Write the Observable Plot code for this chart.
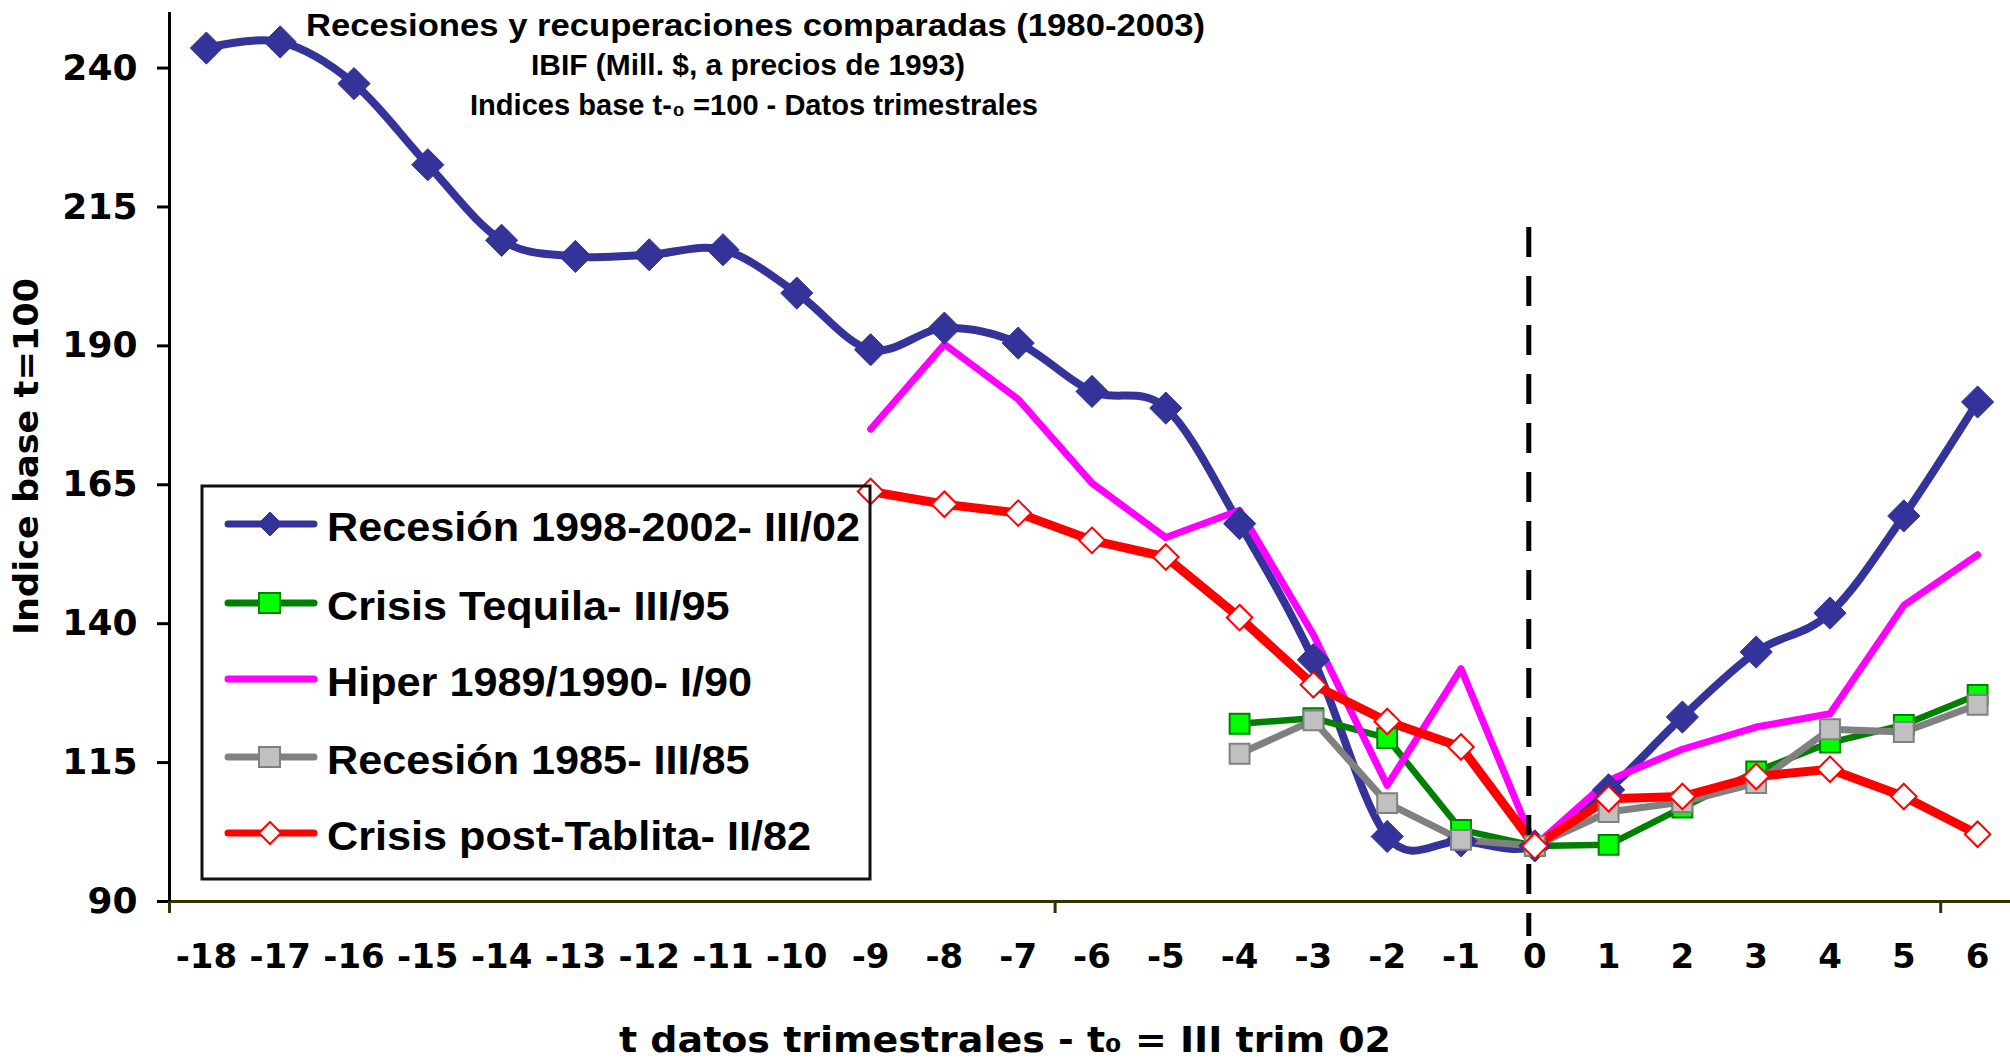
<!DOCTYPE html>
<html><head><meta charset="utf-8">
<script src="https://cdn.jsdelivr.net/npm/d3@7"></script>
<script src="https://cdn.jsdelivr.net/npm/@observablehq/plot@0.6"></script>
<style>
body{margin:0;background:#fff;}
#wrap{position:relative;width:2010px;height:1060px;overflow:hidden;}
#wrap svg{position:absolute;left:0;top:0;}
#wrap g[aria-label="y-axis tick label"], #wrap g[aria-label="y-axis tick label"] text{font:bold 36px "DejaVu Sans";}
#wrap g[aria-label="x-axis tick label"], #wrap g[aria-label="x-axis tick label"] text{font:bold 34px "DejaVu Sans";}
</style></head><body><div id="wrap"></div>
<script>
// ---- data ----
const periods = [-18,-17,-16,-15,-14,-13,-12,-11,-10,-9,-8,-7,-6,-5,-4,-3,-2,-1,0,1,2,3,4,5,6];
const recesion9802 = [243.6,244.7,237.2,222.6,209.0,206.1,206.4,207.3,199.5,189.3,193.2,190.5,181.8,178.8,158.0,133.5,101.7,100.9,100,110.1,123.2,134.9,141.9,159.4,179.9];
const tequila95    = [null,null,null,null,null,null,null,null,null,null,null,null,null,null,122.0,123.0,119.4,102.9,100,100.2,106.9,113.4,118.6,121.8,127.2];
const hiper90      = [null,null,null,null,null,null,null,null,null,175.0,190.3,180.4,165.3,155.5,160.4,138.0,110.9,131.9,100,111.8,117.4,121.4,123.8,143.3,152.4];
const recesion85   = [null,null,null,null,null,null,null,null,null,null,null,null,null,null,116.6,122.6,107.7,101.1,100,106.1,107.9,111.3,121.0,120.5,125.4];
const tablita82    = [null,null,null,null,null,null,null,null,null,163.8,161.5,159.9,155.0,152.0,141.1,129.0,122.4,117.8,100,108.5,108.9,112.5,113.8,108.9,102.1];
const seriesNames  = ["Recesión 1998-2002- III/02","Crisis Tequila- III/95","Hiper 1989/1990- I/90","Recesión 1985- III/85","Crisis post-Tablita- II/82"];
const yTicks = [90,115,140,165,190,215,240];
const xBoundaryTicks = [-18.5,-6.5,5.5];
const refPeriod = [0];
const refSpan = {from: 211.3, to: 83.7};
const titleLines = ["Recesiones y recuperaciones comparadas (1980-2003)","IBIF (Mill. $, a precios de 1993)","Indices base t-₀ =100 - Datos trimestrales"];
const yTitle = "Indice base t=100";
const xTitle = "t datos trimestrales - t₀ = III trim 02";

// ---- styles ----
const styles = [
  {line:"#333399", w:8, curve:"cardinal", symbol:"diamond2", fill:"#333399", ms:"#333399", r:14.5, msw:1},
  {line:"#008000", w:6.5, curve:"linear", symbol:"square", fill:"#00ff00", ms:"#008000", r:11.2, msw:2},
  {line:"#ff00ff", w:7, curve:"linear", symbol:null},
  {line:"#808080", w:7, curve:"linear", symbol:"square", fill:"#c0c0c0", ms:"#808080", r:11.2, msw:2},
  {line:"#ff0000", w:9, curve:"linear", symbol:"diamond2", fill:"#ffffff", ms:"#ff0000", r:11.5, msw:2}
];
const allValues = [recesion9802, tequila95, hiper90, recesion85, tablita82];
const rowsOf = vals => periods.map((t,i)=>({t, v: vals[i]})).filter(d => d.v != null);

const lineMarks = allValues.map((vals,i)=>Plot.line(rowsOf(vals), {x:"t", y:"v", stroke:styles[i].line, strokeWidth:styles[i].w, curve:styles[i].curve, strokeLinejoin:"round", strokeLinecap:"round"}));
const dotMarks = allValues.map((vals,i)=> styles[i].symbol ? Plot.dot(rowsOf(vals), {x:"t", y:"v", symbol:styles[i].symbol, r:styles[i].r, fill:styles[i].fill, stroke:styles[i].ms, strokeWidth:styles[i].msw}) : null).filter(Boolean);

const chart = Plot.plot({
  width: 2010, height: 1060,
  marginLeft: 169, marginRight: -4, marginTop: 12, marginBottom: 159,
  x: {type:"linear", domain:[-18.5, 6.5]},
  y: {type:"linear", domain:[90, 250]},
  style: {fontFamily: "DejaVu Sans", background: "white", overflow: "visible"},
  marks: [
    Plot.ruleY([90], {stroke:"#333300", strokeWidth:3}),
    Plot.ruleX([-18.5], {y1:90, y2:250, stroke:"black", strokeWidth:3}),
    Plot.axisY({ticks: yTicks, tickSize: 12, tickPadding: 20, label: null, stroke:"black", strokeWidth:3, fontSize:36, fontWeight:"bold", tickFormat: d => String(d)}),
    Plot.axisX({ticks: xBoundaryTicks, tickSize: 12, tickFormat: () => "", label: null, stroke:"#333300", strokeWidth:3}),
    Plot.axisX({ticks: periods, tickSize: 0, tickPadding: 42, label: null, fontSize:34, fontWeight:"bold", tickFormat: d => String(d)}),
    ...lineMarks,
    Plot.ruleX(refPeriod, {y1: refSpan.from, y2: refSpan.to, dx: -6, stroke:"black", strokeWidth:5, strokeDasharray:"30,19"}),
    ...dotMarks
  ]
});
document.getElementById("wrap").appendChild(chart);

// ---- overlay: titles, axis titles, legend ----
const ov = d3.select("#wrap").append("svg").attr("width",2010).attr("height",1060).style("pointer-events","none");
const tf = "'Liberation Sans', Arial, sans-serif";
ov.append("text").attr("x",306).attr("y",36).attr("textLength",899).attr("lengthAdjust","spacingAndGlyphs")
  .attr("font-family",tf).attr("font-weight","bold").attr("font-size",31).text(titleLines[0]);
ov.append("text").attr("x",531).attr("y",75).attr("textLength",434).attr("lengthAdjust","spacingAndGlyphs")
  .attr("font-family",tf).attr("font-weight","bold").attr("font-size",29).text(titleLines[1]);
ov.append("text").attr("x",470).attr("y",115).attr("textLength",568).attr("lengthAdjust","spacingAndGlyphs")
  .attr("font-family",tf).attr("font-weight","bold").attr("font-size",29).text(titleLines[2]);

ov.append("text").attr("transform","translate(38,456.5) rotate(-90)").attr("text-anchor","middle")
  .attr("textLength",357).attr("lengthAdjust","spacingAndGlyphs")
  .attr("font-family","DejaVu Sans").attr("font-weight","bold").attr("font-size",34).text(yTitle);
ov.append("text").attr("x",619).attr("y",1052).attr("textLength",772).attr("lengthAdjust","spacingAndGlyphs")
  .attr("font-family","DejaVu Sans").attr("font-weight","bold").attr("font-size",35).text(xTitle);

// legend
ov.append("rect").attr("x",202).attr("y",486).attr("width",668).attr("height",393)
  .attr("fill","none").attr("stroke","#111").attr("stroke-width",3);
const legY = [524, 603, 679, 757, 833];
seriesNames.forEach((name,i)=>{
  const s = styles[i], cy = legY[i];
  ov.append("line").attr("x1",228).attr("x2",314).attr("y1",cy).attr("y2",cy)
    .attr("stroke",s.line).attr("stroke-width",7).attr("stroke-linecap","round");
  if (s.symbol === "diamond2") {
    const h = i===0 ? 12 : 11;
    ov.append("path").attr("d",`M270,${cy-h}L${270+h},${cy}L270,${cy+h}L${270-h},${cy}Z`)
      .attr("fill",s.fill).attr("stroke",s.ms).attr("stroke-width",s.msw);
  } else if (s.symbol === "square") {
    ov.append("rect").attr("x",259).attr("y",cy-10).attr("width",21).attr("height",20)
      .attr("fill",s.fill).attr("stroke",s.ms).attr("stroke-width",2);
  }
  ov.append("text").attr("transform",`translate(327,${cy+17}) scale(1.08,1)`)
    .attr("font-family",tf).attr("font-weight","bold").attr("font-size",40).text(name);
});
</script></body></html>
